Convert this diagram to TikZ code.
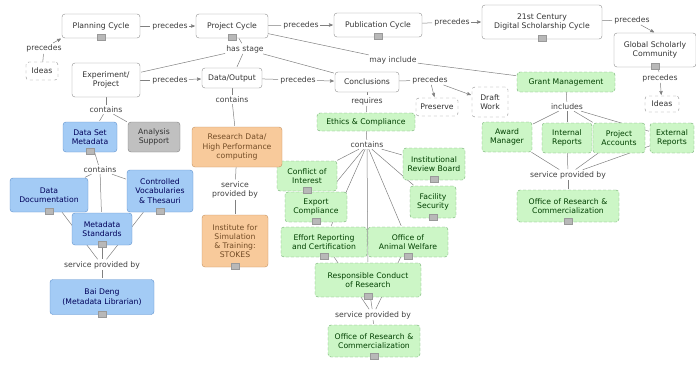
\documentclass[tikz,border=0pt]{standalone}
\usepackage{fontspec}
\setmainfont{DejaVu Sans}
\usetikzlibrary{arrows,backgrounds}

\definecolor{cbluef}{RGB}{163,203,245}
\definecolor{cblued}{RGB}{95,145,205}
\definecolor{corangef}{RGB}{248,202,155}
\definecolor{coranged}{RGB}{195,145,95}
\definecolor{cgreenf}{RGB}{204,246,198}
\definecolor{cgreend}{RGB}{110,170,110}
\definecolor{cgrayf}{RGB}{192,192,192}

\begin{document}
\begin{tikzpicture}[>=stealth',shorten >=1pt,x=1pt,y=-1pt,
  font=\fontsize{7.7}{9.2}\selectfont,
  concept/.style={draw=black!45,rounded corners=3pt,fill=white,align=center,inner sep=1pt,text=black!80},
  idea/.style={concept,dashed},
  bluec/.style={concept,draw=cblued,fill=cbluef,text=blue!35!black},
  orangec/.style={concept,draw=coranged,fill=corangef,text=brown!60!black},
  greenc/.style={concept,draw=cgreend,densely dashed,fill=cgreenf,text=green!25!black},
  grayc/.style={concept,draw=black!50,fill=cgrayf},
  link/.style={inner sep=1pt,text=black!75},
  res/.style={draw=black!40,fill=black!28,minimum width=8pt,minimum height=6pt,inner sep=0pt},
  every edge/.style={draw=black!50,line width=0.5pt}]

\useasboundingbox (0,0) rectangle (696,367);

% cycles
\node[concept,minimum width=78,minimum height=24] (plan) at (101,26) {Planning Cycle};
\node[concept,minimum width=72,minimum height=24] (proj) at (232,26) {Project Cycle};
\node[concept,minimum width=88,minimum height=24] (pub) at (378,25) {Publication Cycle};
\node[concept,minimum width=120,minimum height=34] (dsc) at (542,22) {21st Century\\Digital Scholarship Cycle};
\node[concept,minimum width=82,minimum height=34] (gsc) at (655,50) {Global Scholarly\\Community};
\node[idea,minimum width=32,minimum height=18] (ideasL) at (42,71) {Ideas};
\node[idea,minimum width=34,minimum height=16] (ideasR) at (662,104) {Ideas};

% stages
\node[concept,minimum width=68,minimum height=34] (exp) at (106,80) {Experiment/\\Project};
\node[concept,minimum width=60,minimum height=20] (data) at (232,78) {Data/Output};
\node[concept,minimum width=64,minimum height=20] (concl) at (367,82) {Conclusions};
\node[idea,minimum width=42,minimum height=18] (pres) at (437,107) {Preserve};
\node[idea,minimum width=36,minimum height=30] (draft) at (490,102) {Draft\\Work};
\node[greenc,minimum width=98,minimum height=20] (grant) at (566,82) {Grant Management};

% compliance
\node[greenc,minimum width=98,minimum height=18] (ethics) at (366,122) {Ethics \& Compliance};
\node[greenc,minimum width=60,minimum height=30] (coi) at (307,176) {Conflict of\\Interest};
\node[greenc,minimum width=62,minimum height=30] (export) at (316,207) {Export\\Compliance};
\node[greenc,minimum width=86,minimum height=30] (effort) at (324,242) {Effort Reporting\\and Certification};
\node[greenc,minimum width=80,minimum height=30] (animal) at (408,242) {Office of\\Animal Welfare};
\node[greenc,minimum width=62,minimum height=32] (irb) at (434,164) {Institutional\\Review Board};
\node[greenc,minimum width=46,minimum height=32] (fac) at (433,202) {Facility\\Security};
\node[greenc,minimum width=106,minimum height=34] (rcr) at (368,280) {Responsible Conduct\\of Research};
\node[greenc,minimum width=92,minimum height=32] (orcA) at (374,341) {Office of Research \&\\Commercialization};

% metadata
\node[bluec,minimum width=54,minimum height=30] (dsm) at (90,137) {Data Set\\Metadata};
\node[grayc,minimum width=52,minimum height=30] (ana) at (154,137) {Analysis\\Support};
\node[bluec,minimum width=78,minimum height=34] (ddoc) at (49,195) {Data\\Documentation};
\node[bluec,minimum width=66,minimum height=42] (cvt) at (160,191) {Controlled\\Vocabularies\\\& Thesauri};
\node[bluec,minimum width=60,minimum height=32] (mds) at (102,229) {Metadata\\Standards};
\node[bluec,minimum width=104,minimum height=35] (bai) at (102,297) {Bai Deng\\(Metadata Librarian)};

% computing
\node[orangec,minimum width=90,minimum height=40] (rdh) at (237,147) {Research Data/\\High Performance\\computing};
\node[orangec,minimum width=66,minimum height=52] (ist) at (235,241) {Institute for\\Simulation\\\& Training:\\STOKES};

% grants
\node[greenc,minimum width=50,minimum height=30] (award) at (507,137) {Award\\Manager};
\node[greenc,minimum width=50,minimum height=30] (intr) at (567,138) {Internal\\Reports};
\node[greenc,minimum width=52,minimum height=30] (pacc) at (619,138) {Project\\Accounts};
\node[greenc,minimum width=44,minimum height=30] (extr) at (672,138) {External\\Reports};
\node[greenc,minimum width=102,minimum height=32] (orcB) at (568,206) {Office of Research \&\\Commercialization};

% linking phrases
\node[link] (l1) at (170,26) {precedes};
\node[link] (l2) at (301,25) {precedes};
\node[link] (l3) at (452,22) {precedes};
\node[link] (l4) at (632,20) {precedes};
\node[link] (l5) at (660,78) {precedes};
\node[link] (l6) at (44,48) {precedes};
\node[link] (l7) at (245,49) {has stage};
\node[link] (l8) at (393,60) {may include};
\node[link] (l9) at (170,80) {precedes};
\node[link] (l10) at (298,80) {precedes};
\node[link] (l11) at (430,80) {precedes};
\node[link] (l12) at (367,101) {requires};
\node[link] (l13) at (367,145) {contains};
\node[link] (l14) at (373,315) {service provided by};
\node[link] (l15) at (106,110) {contains};
\node[link] (l16) at (100,170) {contains};
\node[link] (l17) at (102,265) {service provided by};
\node[link] (l18) at (232,100) {contains};
\node[link,align=center] (l19) at (235,190) {service\\provided by};
\node[link] (l20) at (567,107) {includes};
\node[link] (l21) at (568,175) {service provided by};

% resource icons
\foreach \n in {plan,proj,pub,dsc,gsc,dsm,ddoc,cvt,mds,bai,ist,coi,export,effort,animal,irb,fac,rcr,orcA,orcB}
  \node[res] at ([yshift=1pt]\n.south) {};

\begin{pgfonlayer}{background}
\path (plan) edge (l1) (proj) edge (l2) (pub) edge (l3) (dsc) edge (l4)
      (gsc) edge (l5) (ideasL) edge (l6) (exp) edge (l9) (data) edge (l10)
      (concl) edge (l11);
\path[->] (l1) edge (proj) (l2) edge (pub) (l3) edge (dsc)
          (l4) edge (gsc.north) (l5) edge (ideasR) (l6) edge (plan.south west)
          (l9) edge (data) (l10) edge (concl)
          (l11) edge (pres) (l11) edge (draft);
\path (proj) edge (l7) (l7) edge (exp) (l7) edge (data) (l7) edge (concl)
      (proj) edge (l8) (l8) edge (grant)
      (concl) edge (l12) (l12) edge (ethics)
      (ethics) edge (l13)
      (l13) edge (coi) (l13) edge (export) (l13) edge (effort) (l13) edge (rcr)
      (l13) edge (animal) (l13) edge (fac) (l13) edge (irb)
      (rcr) edge (l14) (effort) edge (l14) (animal) edge (l14) (l14) edge (orcA)
      (exp) edge (l15) (l15) edge (dsm) (l15) edge (ana)
      (dsm) edge (l16) (l16) edge (ddoc) (l16) edge (cvt) (l16) edge (mds)
      (mds) edge (l17) (ddoc) edge (l17) (cvt) edge (l17) (l17) edge (bai)
      (data) edge (l18) (l18) edge (rdh)
      (rdh) edge (l19) (l19) edge (ist)
      (grant) edge (l20) (l20) edge (award) (l20) edge (intr) (l20) edge (pacc) (l20) edge (extr)
      (award) edge (l21) (intr) edge (l21) (pacc) edge (l21) (extr) edge (l21) (l21) edge (orcB);
\end{pgfonlayer}
\end{tikzpicture}
\end{document}
